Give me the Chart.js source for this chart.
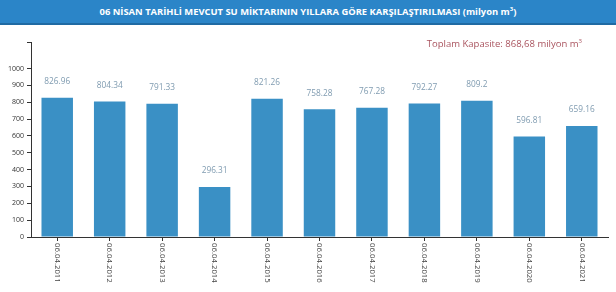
<!DOCTYPE html>
<html>
<head>
<meta charset="utf-8">
<script src="https://cdn.jsdelivr.net/npm/chart.js@4/dist/chart.umd.min.js"></script>
<style>
  body { margin: 0; background: #fff; font-family: "Open Sans", sans-serif; }
  #wrap { position: relative; width: 616px; height: 292px; overflow: hidden; }
  #head {
    position: absolute; left: 0; top: 0; width: 616px; height: 23px;
    background: #2b85c8; border-bottom: 2px solid #1f6aa3;
    color: #fff; font-weight: bold; font-size: 9.4px; line-height: 23px; text-align: center;
  }
  #cap {
    position: absolute; right: 34px; top: 37px;
    color: #a9535e; font-size: 9.5px; line-height: 14px;
  }
  sup { font-size: 6px; vertical-align: 4px; line-height: 0; }
  canvas { position: absolute; left: 0; top: 0; }
</style>
</head>
<body>
<div id="wrap">
  <canvas id="myChart" width="616" height="292"></canvas>
  <div id="head">06 NİSAN TARİHLİ MEVCUT SU MİKTARININ YILLARA GÖRE KARŞILAŞTIRILMASI (milyon m<sup>3</sup>)</div>
  <div id="cap">Toplam Kapasite: 868,68 milyon m<sup>3</sup></div>
</div>
<script>
var dates = ['06.04.2011', '06.04.2012', '06.04.2013', '06.04.2014', '06.04.2015', '06.04.2016',
             '06.04.2017', '06.04.2018', '06.04.2019', '06.04.2020', '06.04.2021'];
var volumes = [826.96, 804.34, 791.33, 296.31, 821.26, 758.28, 767.28, 792.27, 809.2, 596.81, 659.16];
var yTickMax = 1000;
var yTickStep = 100;

// axis goes a bit above the top bar, like the original
var yTop = Math.max.apply(null, volumes) * 1.4;

// value labels over the bars
var barLabels = {
  id: 'barLabels',
  afterDatasetsDraw: function(chart) {
    var ctx = chart.ctx;
    var meta = chart.getDatasetMeta(0);
    ctx.save();
    ctx.font = '8.3px "Open Sans"';
    ctx.fillStyle = '#7f9bb0';
    ctx.textAlign = 'center';
    ctx.textBaseline = 'middle';
    meta.data.forEach(function(bar, i) {
      ctx.fillText(String(volumes[i]), bar.x, bar.y - 16);
    });
    ctx.restore();
  }
};

// x labels turned clockwise, reading top to bottom
var dateLabels = {
  id: 'dateLabels',
  afterDraw: function(chart) {
    var ctx = chart.ctx;
    var xs = chart.scales.x;
    ctx.save();
    ctx.font = '7.8px "Open Sans"';
    ctx.fillStyle = '#444';
    ctx.textAlign = 'left';
    ctx.textBaseline = 'middle';
    dates.forEach(function(d, i) {
      ctx.save();
      ctx.translate(xs.getPixelForTick(i), xs.top + 6);
      ctx.rotate(Math.PI / 2);
      ctx.fillText(d, 0, 0);
      ctx.restore();
    });
    ctx.restore();
  }
};

var ctx = document.getElementById('myChart').getContext('2d');
var chart = new Chart(ctx, {
  type: 'bar',
  data: {
    labels: dates,
    datasets: [{
      data: volumes,
      backgroundColor: '#3a90c5',
      barPercentage: 0.6,
      categoryPercentage: 1
    }]
  },
  options: {
    responsive: false,
    animation: false,
    layout: { padding: { top: 42, right: 8, left: 0, bottom: 0 } },
    plugins: { legend: { display: false }, tooltip: { enabled: false } },
    scales: {
      x: {
        offset: true,
        grid: { offset: false, drawOnChartArea: false, tickLength: 4, color: '#333' },
        border: { color: '#333' },
        ticks: { display: false },
        afterFit: function(s) { s.height = 55; }
      },
      y: {
        min: 0,
        max: yTop,
        grid: { drawOnChartArea: false, tickLength: 4, color: '#333' },
        border: { color: '#333' },
        ticks: {
          stepSize: yTickStep,
          padding: 3,
          color: '#333',
          font: { family: 'Open Sans', size: 7 },
          callback: function(v) { return v <= yTickMax ? v : ''; }
        },
        afterBuildTicks: function(s) {
          s.ticks = s.ticks.filter(function(t) { return t.value <= yTickMax || t.value === s.max; });
        },
        afterFit: function(s) { s.width = 31; }
      }
    }
  },
  plugins: [barLabels, dateLabels]
});
</script>
</body>
</html>
